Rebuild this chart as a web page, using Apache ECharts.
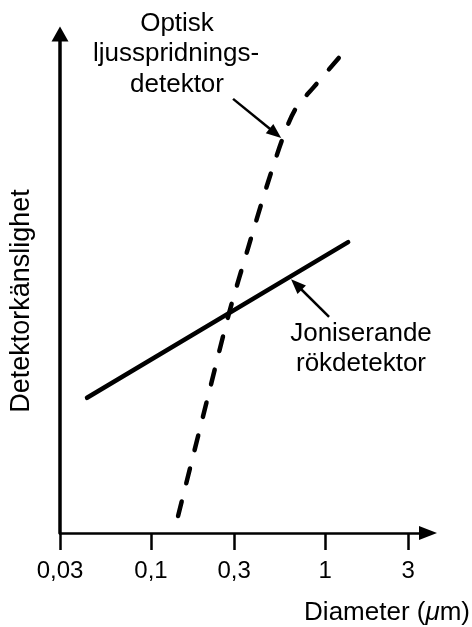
<!DOCTYPE html>
<html>
<head>
<meta charset="utf-8">
<script src="https://cdn.jsdelivr.net/npm/echarts@6/dist/echarts.min.js"></script>
<style>
html,body{margin:0;padding:0;background:#fff;}
#chart{width:472px;height:627px;}
</style>
</head>
<body>
<div id="chart"></div>
<script>
// Tick labels on the (log) diameter axis, µm
const xTicks = [0.03, 0.1, 0.3, 1, 3];
// Joniserande rökdetektor (solid)
const ionX = [0.0429, 1.356];
const ionY = [27.1, 58.3];
// Optisk ljusspridningsdetektor (dashed)
const optX = [0.143, 0.213, 0.281, 0.361, 0.470, 0.589, 0.682, 0.853, 1.356];
const optY = [3.4, 27.5, 44.1, 57.1, 70.3, 80.4, 85.2, 89.2, 97.4];
// Annotation arrows [from, to] in data coordinates
const optArrow = [[0.296, 87.0], [0.518, 80.1]];
const ionArrow = [[1.054, 43.3], [0.684, 49.8]];

const FONT = '"Liberation Sans", Arial, Helvetica, sans-serif';
const zip = (xs, ys) => xs.map((x, i) => [x, ys[i]]);

const chart = echarts.init(document.getElementById('chart'), null, {renderer: 'canvas'});
const arrowStyle = {color: '#000', width: 2.5, type: 'solid'};

chart.setOption({
  animation: false,
  backgroundColor: '#fff',
  grid: {left: 60, right: 44, top: 34, bottom: 94},
  xAxis: {
    type: 'log',
    min: 0.03,
    max: 3.9,
    axisLine: {show: true, lineStyle: {color: '#000', width: 2.5},
      symbol: ['none', 'triangle'], symbolSize: [14, 18]},
    axisTick: {show: true, inside: false, length: 17, lineStyle: {color: '#000', width: 2.5},
      customValues: xTicks},
    axisLabel: {show: true, margin: 26, color: '#000', fontSize: 24, fontFamily: FONT,
      customValues: xTicks,
      formatter: v => String(v).replace('.', ',')},
    splitLine: {show: false},
    minorTick: {show: false}
  },
  yAxis: {
    type: 'value',
    min: 0,
    max: 100,
    axisLine: {show: true, lineStyle: {color: '#000', width: 3.5},
      symbol: ['none', 'triangle'], symbolSize: [17, 15]},
    axisTick: {show: false},
    axisLabel: {show: false},
    splitLine: {show: false}
  },
  series: [
    {
      name: 'Joniserande rökdetektor',
      type: 'line',
      data: zip(ionX, ionY),
      showSymbol: false,
      symbol: 'none',
      lineStyle: {color: '#000', width: 4.5, cap: 'round'},
      markLine: {
        silent: true,
        symbol: ['none', 'triangle'],
        symbolSize: [12, 15],
        label: {show: false},
        lineStyle: arrowStyle,
        data: [[{coord: ionArrow[0]}, {coord: ionArrow[1]}]]
      }
    },
    {
      name: 'Optisk ljusspridningsdetektor',
      type: 'line',
      data: zip(optX, optY),
      smooth: 0.3,
      showSymbol: false,
      symbol: 'none',
      lineStyle: {color: '#000', width: 4.5, type: [15, 19], cap: 'round'},
      markLine: {
        silent: true,
        symbol: ['none', 'triangle'],
        symbolSize: [12, 15],
        label: {show: false},
        lineStyle: arrowStyle,
        data: [[{coord: optArrow[0]}, {coord: optArrow[1]}]]
      }
    }
  ],
  graphic: [
    {type: 'text', x: 177, y: 24, style: {text: 'Optisk', fill: '#000', font: '26px ' + FONT, align: 'center', verticalAlign: 'middle'}},
    {type: 'text', x: 176, y: 54, style: {text: 'ljusspridnings-', fill: '#000', font: '26px ' + FONT, align: 'center', verticalAlign: 'middle'}},
    {type: 'text', x: 177, y: 85, style: {text: 'detektor', fill: '#000', font: '26px ' + FONT, align: 'center', verticalAlign: 'middle'}},
    {type: 'text', x: 361, y: 334, style: {text: 'Joniserande', fill: '#000', font: '26px ' + FONT, align: 'center', verticalAlign: 'middle'}},
    {type: 'text', x: 361, y: 364, style: {text: 'rökdetektor', fill: '#000', font: '26px ' + FONT, align: 'center', verticalAlign: 'middle'}},
    {type: 'text', x: 22, y: 301, rotation: Math.PI / 2,
      style: {text: 'Detektorkänslighet', fill: '#000', font: '27px ' + FONT, align: 'center', verticalAlign: 'middle'}},
    {type: 'text', x: 470, y: 613,
      style: {text: '{a|Diameter (}{b|μ}{a|m)}', fill: '#000', align: 'right', verticalAlign: 'middle',
        rich: {a: {fontSize: 26, fontFamily: FONT, fill: '#000'}, b: {fontSize: 26, fontFamily: FONT, fontStyle: 'italic', fill: '#000'}}}}
  ]
});
</script>
</body>
</html>
